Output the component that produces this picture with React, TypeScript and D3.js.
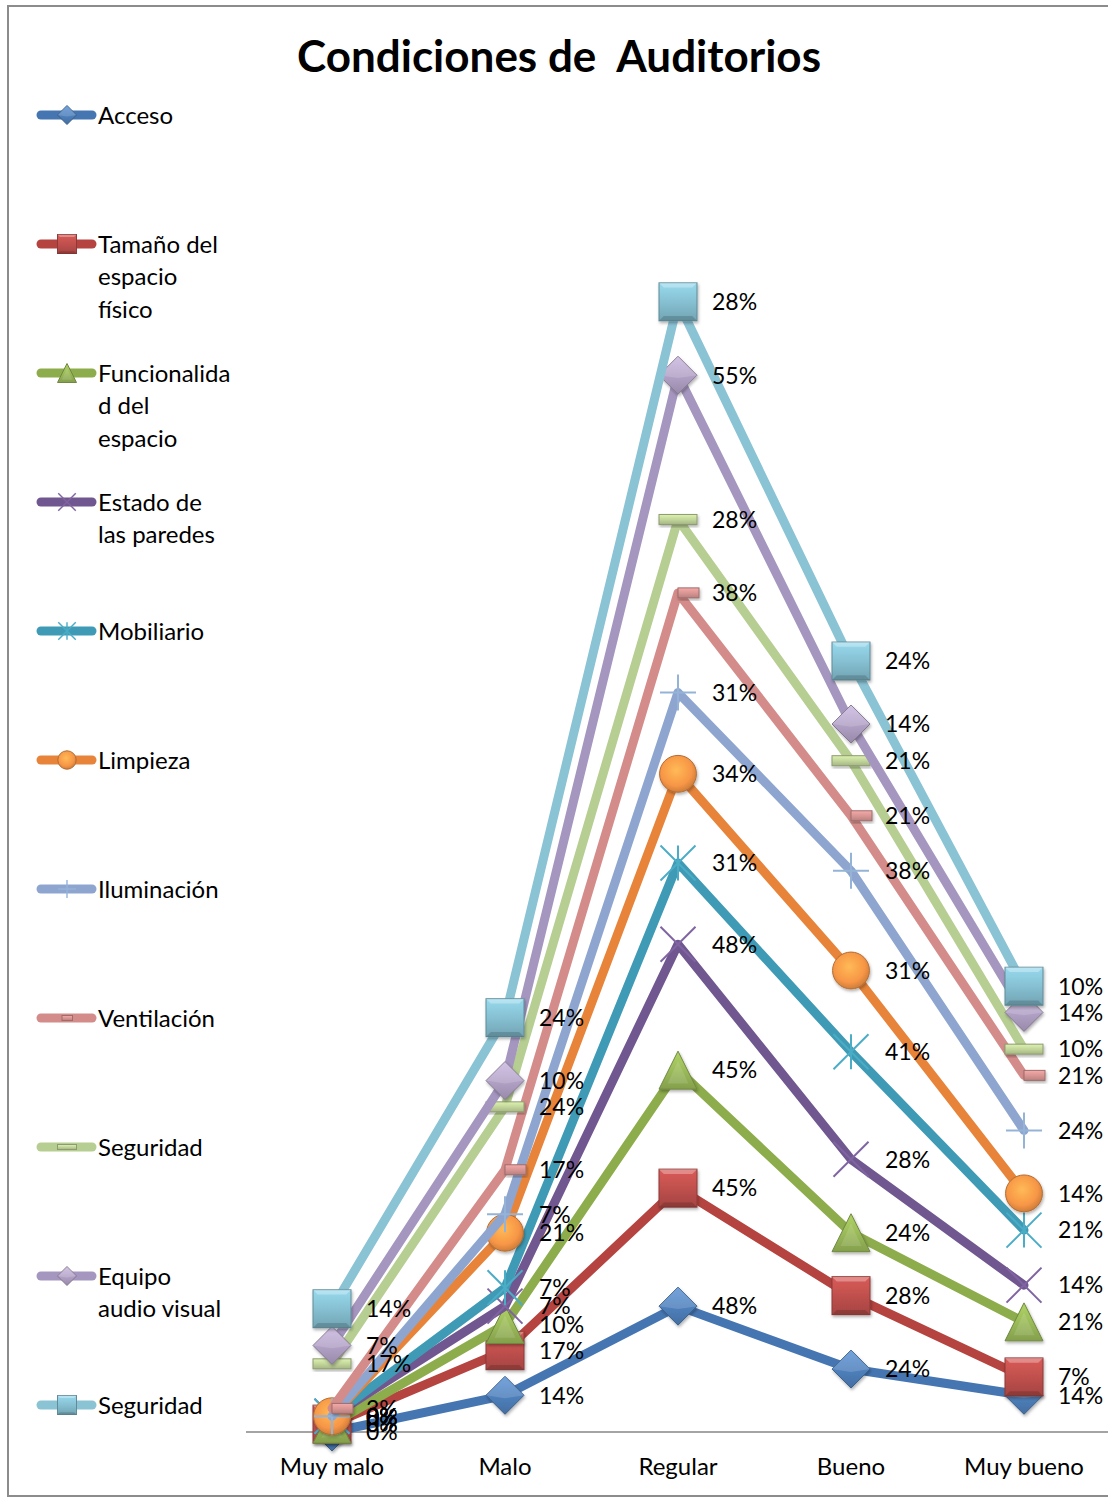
import React from 'react';
import * as d3 from 'd3';

const categories = ['Muy malo', 'Malo', 'Regular', 'Bueno', 'Muy bueno'];

const acceso = [0, 14, 48, 24, 14];
const tamano = [3, 17, 45, 28, 7];
const funcionalidad = [0, 10, 45, 24, 21];
const estadoParedes = [3, 7, 48, 28, 14];
const mobiliario = [0, 7, 31, 41, 21];
const limpieza = [0, 21, 34, 31, 14];
const iluminacion = [0, 7, 31, 38, 24];
const ventilacion = [3, 17, 38, 21, 21];
const seguridad = [17, 24, 28, 21, 10];
const equipoAV = [7, 10, 55, 14, 14];
const seguridad2 = [14, 24, 28, 24, 10];

const seriesKeys = ['s0', 's1', 's2', 's3', 's4', 's5', 's6', 's7', 's8', 's9', 's10'];
const seriesValues = [acceso, tamano, funcionalidad, estadoParedes, mobiliario, limpieza, iluminacion, ventilacion, seguridad, equipoAV, seguridad2];
const legendLabels = [
  ['Acceso'],
  ['Tamaño del', 'espacio', 'físico'],
  ['Funcionalida', 'd del', 'espacio'],
  ['Estado de', 'las paredes'],
  ['Mobiliario'],
  ['Limpieza'],
  ['Iluminación'],
  ['Ventilación'],
  ['Seguridad'],
  ['Equipo', 'audio visual'],
  ['Seguridad'],
];
const title = 'Condiciones de  Auditorios';

const lineColors = ['#4676B2', '#B5433F', '#8DAC4B', '#71578F', '#3F9BB5', '#E7843A', '#8EA6CF', '#D48C8A', '#B7CE92', '#A596BF', '#8AC3D4'];
const markerColors = ['#4F81BD', '#C0504D', '#9BBB59', '#8064A2', '#4BACC6', '#F79646', '#95B3D7', '#D99694', '#C3D69B', '#B3A2C7', '#86C0D2'];
const markerShapes = ['diamond', 'square', 'triangle', 'x', 'star', 'circle', 'plus', 'dashRight', 'dash', 'diamond', 'square'];

const FONT = 'Lato, "Open Sans", sans-serif';

function Marker({ shape, cx, cy, s, i }: { shape: string; cx: number; cy: number; s: number; i: number }) {
  const base = d3.color(markerColors[i])!;
  const stroke = base.darker(0.9).formatHex();
  const fill = `url(#grad${i})`;
  const h = 19 * s;
  const sw = 1;
  switch (shape) {
    case 'diamond':
      return (
        <g filter={s === 1 ? 'url(#shadow)' : undefined}>
          <polygon points={`${cx},${cy - h} ${cx + h},${cy} ${cx},${cy + h} ${cx - h},${cy}`} fill={fill} stroke={stroke} strokeWidth={sw} />
          <polygon points={`${cx - h},${cy} ${cx},${cy - h} ${cx + h},${cy} ${cx},${cy + h * 0.15}`} fill="#fff" opacity={0.15} />
        </g>
      );
    case 'square':
      return (
        <g filter={s === 1 ? 'url(#shadow)' : undefined}>
          <rect x={cx - h} y={cy - h} width={2 * h} height={2 * h} fill={fill} stroke={stroke} strokeWidth={sw} />
          <polygon points={`${cx - h},${cy - h} ${cx + h},${cy - h} ${cx + h * 0.75},${cy - h * 0.75} ${cx - h * 0.75},${cy - h * 0.75}`} fill="#fff" opacity={0.3} />
          <polygon points={`${cx - h},${cy + h} ${cx + h},${cy + h} ${cx + h * 0.75},${cy + h * 0.75} ${cx - h * 0.75},${cy + h * 0.75}`} fill="#000" opacity={0.15} />
        </g>
      );
    case 'triangle':
      return (
        <g filter={s === 1 ? 'url(#shadow)' : undefined}>
          <polygon points={`${cx},${cy - h} ${cx + h},${cy + h} ${cx - h},${cy + h}`} fill={fill} stroke={stroke} strokeWidth={sw} />
          <polygon points={`${cx},${cy - h * 0.5} ${cx + h * 0.55},${cy + h * 0.7} ${cx - h * 0.55},${cy + h * 0.7}`} fill="#fff" opacity={0.12} />
        </g>
      );
    case 'circle':
      return (
        <g filter={s === 1 ? 'url(#shadow)' : undefined}>
          <circle cx={cx} cy={cy} r={h * 0.97} fill={`url(#rgrad${i})`} stroke={stroke} strokeWidth={sw} />
        </g>
      );
    case 'x': {
      const a = 17.5 * s;
      return (
        <g stroke={markerColors[i]} strokeWidth={2 * Math.max(s, 0.7)}>
          <line x1={cx - a} y1={cy - a} x2={cx + a} y2={cy + a} />
          <line x1={cx - a} y1={cy + a} x2={cx + a} y2={cy - a} />
        </g>
      );
    }
    case 'star': {
      const a = 17.5 * s;
      return (
        <g stroke={markerColors[i]} strokeWidth={2 * Math.max(s, 0.7)}>
          <line x1={cx - a} y1={cy - a} x2={cx + a} y2={cy + a} />
          <line x1={cx - a} y1={cy + a} x2={cx + a} y2={cy - a} />
          <line x1={cx} y1={cy - a} x2={cx} y2={cy + a} />
        </g>
      );
    }
    case 'plus': {
      const a = 18 * s;
      return (
        <g stroke={markerColors[i]} strokeWidth={2 * Math.max(s, 0.7)}>
          <line x1={cx - a} y1={cy} x2={cx + a} y2={cy} />
          <line x1={cx} y1={cy - a} x2={cx} y2={cy + a} />
        </g>
      );
    }
    case 'dashRight':
      return (
        <g filter={s === 1 ? 'url(#shadow)' : undefined}>
          <rect x={cx - (s === 1 ? 0 : 10 * s)} y={cy - 5 * s} width={21 * s} height={10 * s} fill={fill} stroke={stroke} strokeWidth={sw} />
        </g>
      );
    case 'dash':
      return (
        <g filter={s === 1 ? 'url(#shadow)' : undefined}>
          <rect x={cx - h} y={cy - 5 * s} width={2 * h} height={10 * s} fill={fill} stroke={stroke} strokeWidth={sw} />
        </g>
      );
    default:
      return null;
  }
}

export default function App() {
  const W = 1108;
  const H = 1498;
  const x = d3.scalePoint<string>().domain(categories).range([332, 1024]);
  const y = d3.scaleLinear().domain([0, 450]).range([1432, 252]);

  const table = categories.map((c, ci) => {
    const row: any = { cat: c };
    seriesKeys.forEach((k, si) => (row[k] = seriesValues[si][ci]));
    return row;
  });
  const stacked = d3.stack<any>().keys(seriesKeys)(table);

  const lineGen = d3
    .line<any>()
    .x((d) => x(d.data.cat)!)
    .y((d) => y(d[1]));

  return (
    <svg width={W} height={H} style={{ position: 'absolute', left: 0, top: 0, background: '#fff' }} fontFamily={FONT}>
      <defs>
        {markerColors.map((c, i) => {
          const b = d3.color(c)!;
          return (
            <linearGradient key={'g' + i} id={`grad${i}`} x1="0" y1="0" x2="0" y2="1">
              <stop offset="0%" stopColor={b.brighter(0.35).formatHex()} />
              <stop offset="50%" stopColor={b.formatHex()} />
              <stop offset="100%" stopColor={b.darker(0.45).formatHex()} />
            </linearGradient>
          );
        })}
        {markerColors.map((c, i) => {
          const b = d3.color(c)!;
          return (
            <radialGradient key={'r' + i} id={`rgrad${i}`} cx="0.45" cy="0.4" r="0.6">
              <stop offset="0%" stopColor={b.brighter(0.6).formatHex()} />
              <stop offset="70%" stopColor={b.formatHex()} />
              <stop offset="100%" stopColor={b.darker(0.5).formatHex()} />
            </radialGradient>
          );
        })}
        <filter id="shadow" x="-30%" y="-30%" width="160%" height="160%">
          <feDropShadow dx="1" dy="2" stdDeviation="1.5" floodColor="#000" floodOpacity="0.3" />
        </filter>
      </defs>

      {/* chart border */}
      <rect x={8} y={6} width={1130} height={1490} fill="none" stroke="#8c8c8c" strokeWidth={2} />

      {/* title */}
      <text x={559} y={72} textAnchor="middle" fontSize={44} fontWeight={700} fill="#000" style={{ whiteSpace: 'pre' }}>
        {title}
      </text>

      {/* axis */}
      <line x1={246} x2={1108} y1={1432} y2={1432} stroke="#868686" strokeWidth={1.5} />
      {categories.map((c) => (
        <text key={c} x={x(c)} y={1475} textAnchor="middle" fontSize={24} fill="#000">
          {c}
        </text>
      ))}

      {/* series */}
      {stacked.map((s, si) => (
        <g key={si}>
          <path d={lineGen(s as any)!} fill="none" stroke={lineColors[si]} strokeWidth={9} strokeLinejoin="round" strokeLinecap="round" />
          {s.map((d: any, di) => (
            <Marker key={di} shape={markerShapes[si]} cx={x(d.data.cat)!} cy={y(d[1])} s={1} i={si} />
          ))}
        </g>
      ))}

      {/* data labels */}
      {stacked.map((s, si) => (
        <g key={'l' + si}>
          {s.map((d: any, di) => (
            <text key={di} x={x(d.data.cat)! + 34} y={y(d[1])} dy="0.36em" fontSize={23} fill="#000">
              {seriesValues[si][di] + '%'}
            </text>
          ))}
        </g>
      ))}

      {/* legend */}
      {legendLabels.map((lines, i) => {
        const cy = 115 + 129 * i;
        return (
          <g key={'lg' + i}>
            <line x1={41} x2={92} y1={cy} y2={cy} stroke={lineColors[i]} strokeWidth={9} strokeLinecap="round" />
            <Marker shape={markerShapes[i]} cx={67} cy={cy} s={0.5} i={i} />
            {lines.map((t, li) => (
              <text key={li} x={98} y={cy + li * 32.5} dy="0.36em" fontSize={24} fill="#000">
                {t}
              </text>
            ))}
          </g>
        );
      })}
    </svg>
  );
}
